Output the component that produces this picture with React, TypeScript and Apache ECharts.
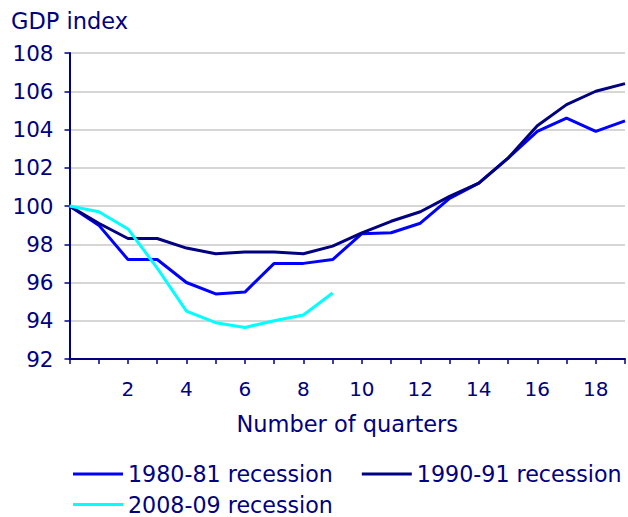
import React, { useEffect, useRef } from "react";
import * as echarts from "echarts";

const quarters = [0, 1, 2, 3, 4, 5, 6, 7, 8, 9, 10, 11, 12, 13, 14, 15, 16, 17, 18, 19];
const rec1980 = [100, 99.0, 97.2, 97.2, 96.0, 95.4, 95.5, 97.0, 97.0, 97.2, 98.55, 98.6, 99.1, 100.4, 101.2, 102.5, 103.9, 104.6, 103.9, 104.45];
const rec1990 = [100, 99.1, 98.3, 98.3, 97.8, 97.5, 97.6, 97.6, 97.5, 97.9, 98.6, 99.2, 99.7, 100.5, 101.2, 102.5, 104.2, 105.3, 106.0, 106.4];
const rec2008 = [100, 99.7, 98.8, 96.75, 94.5, 93.9, 93.65, 94.0, 94.3, 95.45];
const seriesNames = ["1980-81 recession", "1990-91 recession", "2008-09 recession"];
const seriesColors = ["#0000FF", "#000080", "#00FFFF"];
const yTicks = { min: 92, max: 108, interval: 2 };
const xTicks = { min: 0, max: 19, interval: 1 };

const TEXT = "#000080";
const FONT = "DejaVu Sans";

export default function App() {
  const ref = useRef<HTMLDivElement>(null);
  useEffect(() => {
    if (!ref.current) return;
    const chart = echarts.init(ref.current, null, { renderer: "svg" });
    const values = [rec1980, rec1990, rec2008];
    const legendBase = {
      left: 73,
      width: 620,
      padding: 0,
      orient: "horizontal",
      icon: "rect",
      itemWidth: 50,
      itemHeight: 3,
      itemGap: 29,
      textStyle: { fontFamily: FONT, fontSize: 22.2, color: TEXT, lineHeight: 20 },
    };
    chart.setOption({
      animation: false,
      backgroundColor: "#ffffff",
      textStyle: { fontFamily: FONT, color: TEXT },
      grid: { left: 69.5, top: 53, right: -4.9, bottom: 158, containLabel: false },
      xAxis: {
        type: "value",
        min: xTicks.min,
        max: xTicks.max,
        interval: xTicks.interval,
        name: "Number of quarters",
        nameLocation: "middle",
        nameGap: 53,
        nameTextStyle: { fontFamily: FONT, fontSize: 22.5, color: TEXT },
        axisLine: { onZero: false, lineStyle: { color: TEXT, width: 2 } },
        axisTick: { show: true, length: 5, lineStyle: { color: TEXT, width: 1.5 } },
        axisLabel: {
          margin: 20,
          fontFamily: FONT,
          fontSize: 20,
          color: TEXT,
          formatter: (v: number) => (v !== 0 && v % 2 === 0 ? String(v) : ""),
        },
        splitLine: { show: false },
      },
      yAxis: {
        type: "value",
        min: yTicks.min,
        max: yTicks.max,
        interval: yTicks.interval,
        name: "GDP index",
        nameLocation: "end",
        nameGap: 21,
        nameTextStyle: { fontFamily: FONT, fontSize: 22.5, color: TEXT, align: "center" },
        axisLine: { show: true, lineStyle: { color: TEXT, width: 2 } },
        axisTick: { show: true, length: 5, lineStyle: { color: TEXT, width: 1.5 } },
        axisLabel: { margin: 16, fontFamily: FONT, fontSize: 21.5, color: TEXT },
        splitLine: { show: true, lineStyle: { color: "#c8c8c8", width: 1.5 } },
      },
      legend: [
        { ...legendBase, data: [seriesNames[0], seriesNames[1]], top: 463 },
        { ...legendBase, data: [seriesNames[2]], top: 493.5 },
      ],
      series: values.map((vals, i) => ({
        name: seriesNames[i],
        type: "line",
        data: vals.map((v, j) => [quarters[j], v]),
        symbol: "none",
        color: seriesColors[i],
        lineStyle: { color: seriesColors[i], width: 3 },
        z: i === 2 ? 3 : i === 1 ? 2 : 1,
      })),
    });
    return () => chart.dispose();
  }, []);
  return (
    <div
      ref={ref}
      style={{ position: "absolute", left: 0, top: 0, width: 628, height: 517 }}
    />
  );
}
